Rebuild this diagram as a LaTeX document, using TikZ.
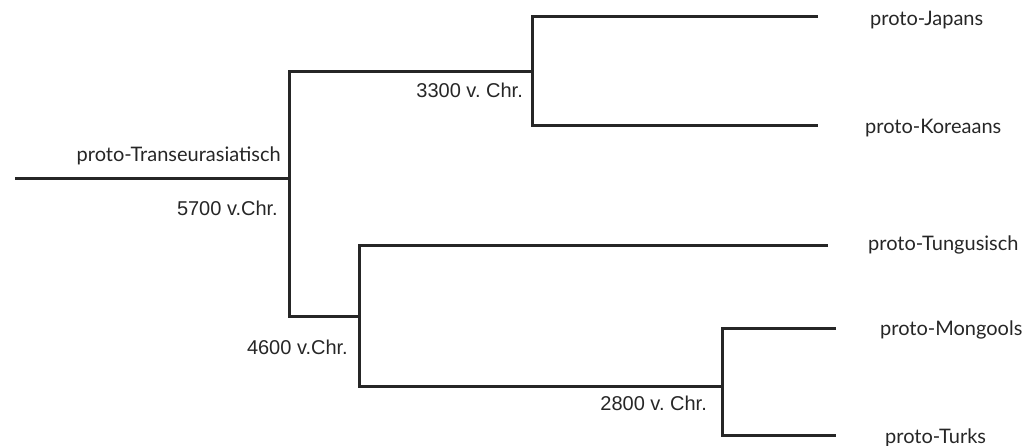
\documentclass[tikz,border=0pt]{standalone}
\usepackage{fontspec}
\setmainfont{Liberation Sans}
\newfontfamily\leaffont{Lato}
\begin{document}
\begin{tikzpicture}[x=1pt,y=-1pt,
  branch/.style={line width=3pt, line join=miter, line cap=butt, black!85},
  taxon/.style={anchor=west, inner sep=0pt, font=\leaffont\fontsize{20}{24}\selectfont, black!85},
  date/.style={anchor=east, inner sep=0pt, font=\fontsize{20}{24}\selectfont, black!85}]
\useasboundingbox (0,0) rectangle (1032,446);

% branch points and tips
\coordinate (root) at (15,179);
\coordinate (r)  at (289,179);
\coordinate (a)  at (289,72);   \coordinate (a2) at (532,72);
\coordinate (b)  at (289,316);  \coordinate (b2) at (359,316);
\coordinate (j0) at (532,16.5); \coordinate (j)  at (818,16.5);
\coordinate (k0) at (532,126);  \coordinate (k)  at (818,126);
\coordinate (t0) at (359,245);  \coordinate (t)  at (828,245);
\coordinate (c0) at (359,386);  \coordinate (c)  at (722,386);
\coordinate (m0) at (722,328);  \coordinate (m)  at (836,328);
\coordinate (u0) at (722,435);  \coordinate (u)  at (836,435);

% tree
\draw[branch] (root) -- (r);
\draw[branch] (a2) -- (a) -- (b) -- (b2);
\draw[branch] (j) -- (j0) -- (k0) -- (k);
\draw[branch] (t) -- (t0) -- (c0) -- (c);
\draw[branch] (m) -- (m0) -- (u0) -- (u);

% node labels
\node[taxon, anchor=east] (lroot) at (281,156) {proto-Transeurasiatisch};
\node[date] (d5700) at (278,208) {5700 v.Chr.};
\node[date] (d3300) at (523,90) {3300 v.\ Chr.};
\node[date] (d4600) at (348,347) {4600 v.Chr.};
\node[date] (d2800) at (707,403) {2800 v.\ Chr.};

% tip labels
\node[taxon] (ljap) at (870,20)  {proto-Japans};
\node[taxon] (lkor) at (865,128) {proto-Koreaans};
\node[taxon] (ltun) at (868,245) {proto-Tungusisch};
\node[taxon] (lmon) at (880,330) {proto-Mongools};
\node[taxon] (ltur) at (885,438) {proto-Turks};
\end{tikzpicture}
\end{document}
